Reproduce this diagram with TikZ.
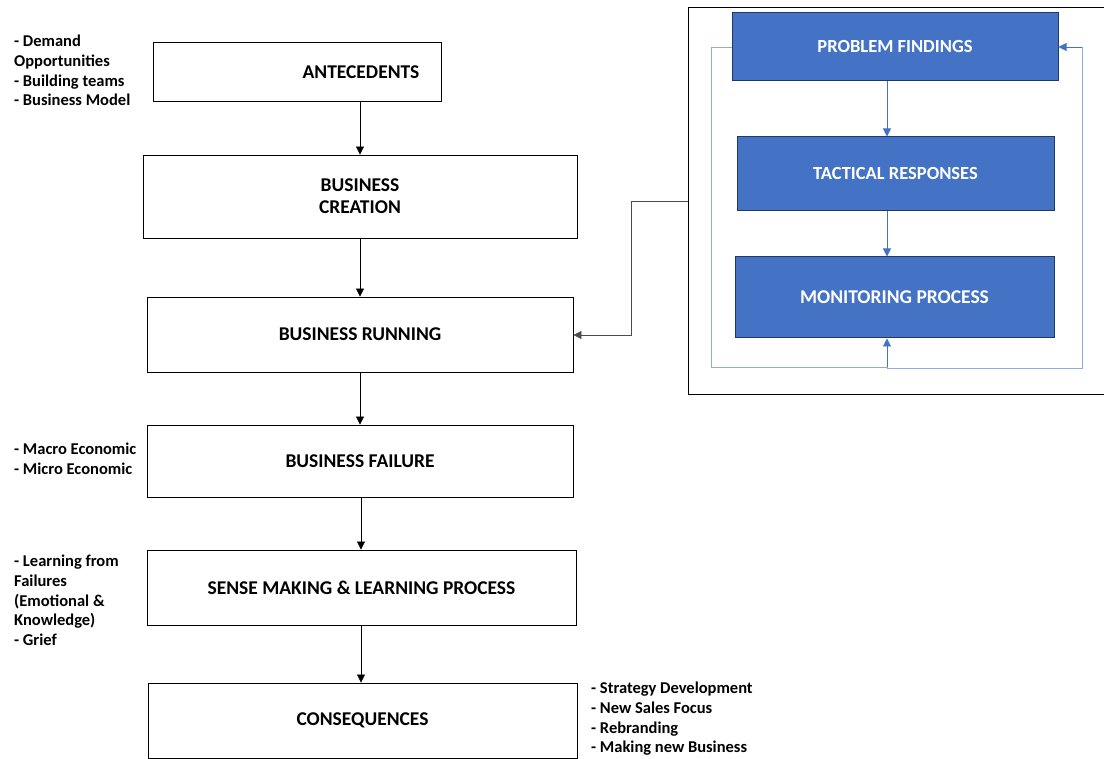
\documentclass[tikz,border=0pt]{standalone}
\usepackage{fontspec}
\setmainfont{Carlito}
\usetikzlibrary{arrows.meta}
\definecolor{boxblue}{HTML}{4472C4}
\definecolor{boxedge}{HTML}{1F3864}
\definecolor{lightline}{HTML}{8FAADC}
\begin{document}
\begin{tikzpicture}[x=1pt,y=-1pt,
  flowtext/.style={inner sep=0pt, align=center,
    font=\fontsize{19.5}{22}\selectfont\bfseries},
  flow/.style={flowtext, draw=black, line width=0.9pt, fill=white},
  bluebox/.style={draw=boxedge, line width=1pt, fill=boxblue, text=white, inner sep=0pt,
    font=\fontsize{18.5}{20}\selectfont\bfseries},
  side/.style={align=left, anchor=north west, inner sep=0pt,
    font=\fontsize{16.5}{19.7}\selectfont\bfseries},
  arr/.style={-{Triangle[length=8pt,width=8pt]}, line width=0.6pt, draw=black},
  barr/.style={-{Triangle[length=8pt,width=8pt]}, line width=0.9pt, draw=boxblue},
  lline/.style={line width=0.9pt, draw=lightline}]
\useasboundingbox (0,0) rectangle (1104,759);
\fill[white] (0,0) rectangle (1104,759);

% main flow
\node[flow, minimum width=288pt, minimum height=59pt] (ante) at (297,71.5) {};
\node[flowtext] (anteT) at (361,72) {ANTECEDENTS};
\node[flow, minimum width=434pt, minimum height=83pt] (crea) at (360,196.5) {BUSINESS\\CREATION};
\node[flow, minimum width=426pt, minimum height=75pt] (run) at (360,334.5) {BUSINESS RUNNING};
\node[flow, minimum width=426pt, minimum height=72pt] (fail) at (360,461) {BUSINESS FAILURE};
\node[flow, minimum width=429pt, minimum height=75pt] (sense) at (361.5,587.5) {SENSE MAKING \& LEARNING PROCESS};
\node[flow, minimum width=429pt, minimum height=75pt] (cons) at (362.5,720.5) {CONSEQUENCES};

\draw[arr] (ante.south -| 360,0) -- (crea.north -| 360,0);
\draw[arr] (crea.south -| 360,0) -- (run.north -| 360,0);
\draw[arr] (run.south -| 360,0) -- (fail.north -| 360,0);
\draw[arr] (fail.south -| 361,0) -- (sense.north -| 361,0);
\draw[arr] (sense.south -| 361,0) -- (cons.north -| 361,0);

% side notes
\node[side] (n1) at (14,35) {- Demand\\Opportunities\\- Building teams\\- Business Model};
\node[side] (n2) at (14,443) {- Macro Economic\\- Micro Economic};
\node[side] (n3) at (14,555) {- Learning from\\Failures\\(Emotional \&\\Knowledge)\\- Grief};
\node[side] (n4) at (591,682) {- Strategy Development\\- New Sales Focus\\- Rebranding\\- Making new Business};

% outer frame (open at right edge)
\coordinate (frameL) at (688,201);
\draw[line width=1pt] (1106,8) -- (688,8) -- (688,395) -- (1106,395);

% blue boxes
\node[bluebox, minimum width=326pt, minimum height=68pt] (pf) at (895,47) {PROBLEM FINDINGS};
\node[bluebox, minimum width=317pt, minimum height=74pt] (tr) at (895.5,174) {TACTICAL RESPONSES};
\node[bluebox, minimum width=319pt, minimum height=81pt, font=\fontsize{19.5}{20}\selectfont\bfseries] (mp) at (894.5,297.5) {MONITORING PROCESS};

\draw[barr] (pf.south -| 887,0) -- (tr.north -| 887,0);
\draw[barr] (tr.south -| 887,0) -- (mp.north -| 887,0);

\coordinate (fbL) at (711,367);
\coordinate (fbM) at (887,367);
\coordinate (fbR) at (1082,368);
\draw[lline] (pf.west) -- (pf.west -| fbL) -- (fbL) -- (fbM);
\draw[barr] (fbM) -- (mp.south -| fbM);
\draw[lline] (fbM) -- (fbM |- fbR) -- (fbR) -- (fbR |- pf.east);
\draw[barr] (fbR |- pf.east) -- (pf.east);

% connector from frame to business running
\draw[arr, draw=black!70] (frameL) -- (631,201) -- (631,335) -- (run.east |- 0,335);
\end{tikzpicture}
\end{document}
